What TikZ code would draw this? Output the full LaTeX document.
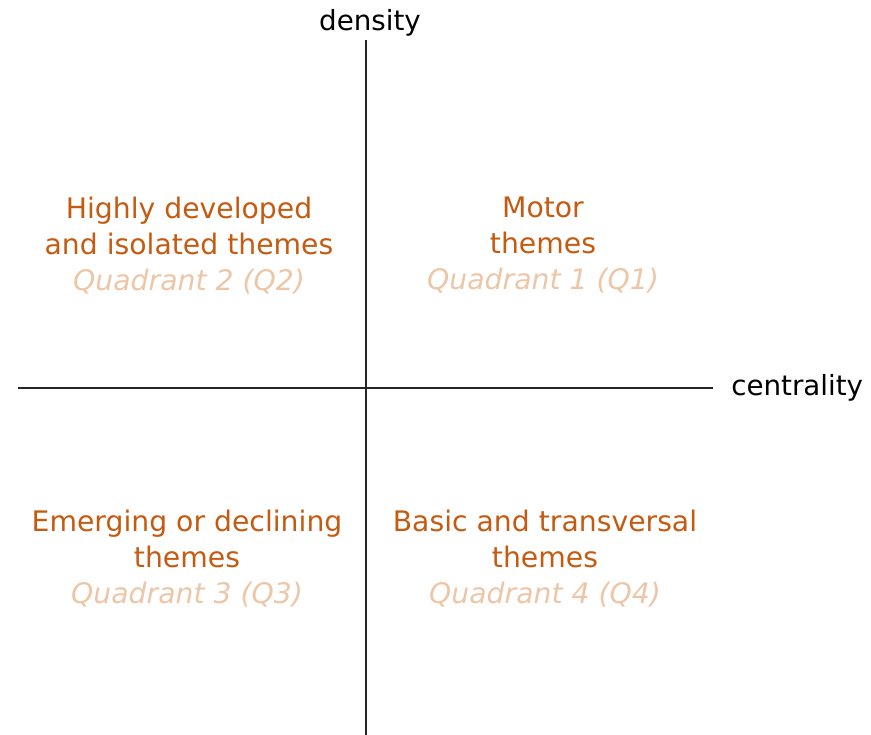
\documentclass[tikz,border=0pt]{standalone}
\usepackage{fontspec}
\setmainfont{DejaVu Sans}
\definecolor{theme}{RGB}{197,90,17}
\definecolor{quad}{RGB}{236,198,166}
\begin{document}
\begin{tikzpicture}[x=0.75pt,y=-0.75pt,
  axis/.style={line width=1.1pt,black!85},
  axlabel/.style={font=\fontsize{20.8pt}{25pt}\selectfont,inner sep=0pt},
  quadtext/.style={align=center,inner sep=0pt,font=\fontsize{21.2pt}{27pt}\selectfont,text=theme}]
\useasboundingbox (0,0) rectangle (871,735);
\coordinate (vtop) at (366,40);
\coordinate (vbot) at (366,735);
\coordinate (hleft) at (18,388);
\coordinate (hright) at (713,388);
\draw[axis] (vtop) -- (vbot);
\draw[axis] (hleft) -- (hright);
\node[axlabel,anchor=south] (dens) at (370,37) {density};
\node[axlabel,anchor=west] (cent) at (731,388) {centrality};
\node[quadtext] (q2) at (189,245.5) {Highly developed\\and isolated themes\\{\itshape\color{quad}Quadrant 2 (Q2)}};
\node[quadtext] (q1) at (543,245.5) {Motor\\themes\\{\itshape\color{quad}Quadrant 1 (Q1)}};
\node[quadtext] (q3) at (187,558.5) {Emerging or declining\\themes\\{\itshape\color{quad}Quadrant 3 (Q3)}};
\node[quadtext] (q4) at (545,558.5) {Basic and transversal\\themes\\{\itshape\color{quad}Quadrant 4 (Q4)}};
\end{tikzpicture}
\end{document}
